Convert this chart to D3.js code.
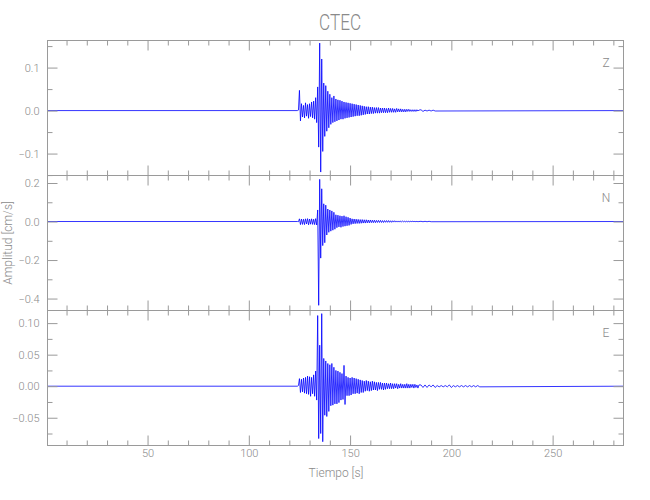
<!DOCTYPE html>
<html>
<head>
<meta charset="utf-8">
<script src="https://cdn.jsdelivr.net/npm/d3@7"></script>
<style>
  html, body { margin: 0; padding: 0; background: #fff; }
  svg { display: block; }
  text { font-family: Roboto, "Liberation Sans Narrow", "DejaVu Sans", sans-serif; font-weight: 300; fill: #8a8a8a; }
</style>
</head>
<body>
<script>
// ---------------- data ----------------
const title = "CTEC";
const xLabel = "Tiempo  [s]";
const yLabel = "Amplitud  [cm/s]";
const components = ["Z", "N", "E"];

const timeDomain = [0.6, 285];
const xMajorTicks = [50, 100, 150, 200, 250];
const xMinorTicks = [10, 20, 30, 40, 60, 70, 80, 90, 110, 120, 130, 140, 160, 170, 180, 190, 210, 220, 230, 240, 260, 270, 280];

// dense samples start at 124.0 s, every 0.5 s
const denseStart = 124.0;
const denseStep = 0.5;

const ampZ = [
  0, 0.001, 0.047, -0.024, 0.016, -0.015, 0.012, -0.017, 0.018, -0.013,
  0.014, -0.018, 0.016, -0.014, 0.020, -0.017, 0.022, -0.020, 0.030, -0.028,
  0.055, -0.085, 0.157, -0.143, 0.120, -0.095, 0.064, -0.060, 0.058, -0.048,
  0.045, -0.040, 0.038, -0.032, 0.030, -0.028, 0.034, -0.026, 0.027, -0.024,
  0.025, -0.022, 0.024, -0.020, 0.022, -0.020, 0.020, -0.018, 0.019, -0.017,
  0.018, -0.016, 0.017, -0.015, 0.016, -0.014, 0.015, -0.013, 0.014, -0.012,
  0.013, -0.012, 0.012, -0.011, 0.011, -0.010, 0.010, -0.009, 0.009, -0.008,
  0.009, -0.008, 0.008, -0.007, 0.008, -0.007, 0.007, -0.006, 0.007, -0.006,
  0.007, -0.006, 0.006, -0.005, 0.006, -0.005, 0.006, -0.005, 0.005, -0.005,
  0.006, -0.004, 0.005, -0.004, 0.005, -0.004, 0.004, -0.004, 0.005, -0.003,
  0.004, -0.003, 0.004, -0.003, 0.003, -0.003, 0.003, -0.003, 0.003, -0.002,
  0.003, -0.002, 0.002, -0.002, 0.002, -0.002, 0.002, -0.002, 0.002, -0.001,
  0.001
];

const ampN = [
  0, -0.001, 0.014, -0.016, 0.013, -0.015, 0.012, -0.016, 0.014, -0.013,
  0.015, -0.017, 0.013, -0.014, 0.014, -0.015, 0.012, -0.016, 0.015, -0.018,
  0.060, -0.435, 0.219, -0.190, 0.170, -0.125, 0.092, -0.110, 0.085, -0.070,
  0.065, -0.056, 0.060, -0.050, 0.055, -0.045, 0.048, -0.040, 0.035, -0.032,
  0.033, -0.028, 0.030, -0.030, 0.028, -0.026, 0.030, -0.024, 0.025, -0.022,
  0.022, -0.020, 0.018, -0.015, 0.014, -0.012, 0.013, -0.011, 0.012, -0.010,
  0.011, -0.010, 0.010, -0.009, 0.010, -0.008, 0.009, -0.008, 0.009, -0.007,
  0.008, -0.007, 0.008, -0.006, 0.007, -0.006, 0.007, -0.006, 0.006, -0.005,
  0.006, -0.005, 0.006, -0.005, 0.005, -0.005, 0.005, -0.004, 0.005, -0.004,
  0.005, -0.004, 0.004, -0.004, 0.004, -0.003, 0.004, -0.003, 0.003, -0.003,
  0.003, -0.003, 0.003, -0.002, 0.003, -0.002, 0.002, -0.002, 0.002, -0.002,
  0.002, -0.002, 0.002, -0.001, 0.002, -0.001, 0.001, -0.001, 0.001, -0.001,
  0.000
];

const ampE = [
  0, 0.001, 0.012, -0.010, 0.011, -0.009, 0.013, -0.011, 0.014, -0.012,
  0.016, -0.013, 0.015, -0.016, 0.014, -0.012, 0.018, -0.016, 0.024, -0.022,
  0.112, -0.083, 0.065, -0.075, 0.115, -0.088, 0.044, -0.046, 0.040, -0.048,
  0.036, -0.040, 0.034, -0.031, 0.036, -0.030, 0.030, -0.028, 0.025, -0.028,
  0.024, -0.026, 0.022, -0.022, 0.020, -0.021, 0.033, -0.029, 0.016, -0.015,
  0.014, -0.015, 0.013, -0.014, 0.014, -0.012, 0.013, -0.012, 0.012, -0.011,
  0.011, -0.012, 0.010, -0.010, 0.009, -0.010, 0.008, -0.008, 0.009, -0.007,
  0.008, -0.008, 0.007, -0.007, 0.008, -0.006, 0.007, -0.006, 0.006, -0.007,
  0.006, -0.005, 0.006, -0.005, 0.005, -0.006, 0.005, -0.005, 0.005, -0.004,
  0.004, -0.004, 0.005, -0.004, 0.004, -0.004, 0.004, -0.003, 0.004, -0.004,
  0.003, -0.003, 0.004, -0.003, 0.003, -0.003, 0.003, -0.003, 0.004, -0.003,
  0.003, -0.003, 0.003, -0.002, 0.003, -0.003, 0.003, -0.002, 0.002, -0.003,
  0.002
];

// sparse coda tail, every 1 s from 185 s
const tailStart = 185;
const tailStep = 1;
const tailZ = [0.002, -0.002, 0.001, -0.001, 0.001, -0.001, 0.001, -0.001];
const tailN = [0.001, -0.001, 0.001, -0.001, 0.001, -0.001];
const tailE = [
  0.002, -0.002, 0.002, -0.002, 0.002, -0.001, 0.002, -0.002, 0.001, -0.001,
  0.001, -0.001, 0.001, -0.001, 0.002, -0.002, 0.001, -0.001, 0.001, -0.001,
  0.001, -0.001, 0.001, -0.001, 0.001, -0.001, 0.001, -0.001, 0.001, -0.001
];

const yDomainZ = [-0.151, 0.163];
const yDomainN = [-0.462, 0.239];
const yDomainE = [-0.094, 0.12];

const yTicksZ = [-0.1, 0.0, 0.1];
const yLabelsZ = ["\u22120.1", "0.0", "0.1"];
const yMinorZ = [-0.15, -0.05, 0.05, 0.15];

const yTicksN = [-0.4, -0.2, 0.0, 0.2];
const yLabelsN = ["\u22120.4", "\u22120.2", "0.0", "0.2"];
const yMinorN = [-0.3, -0.1, 0.1];

const yTicksE = [-0.05, 0.0, 0.05, 0.10];
const yLabelsE = ["\u22120.05", "0.00", "0.05", "0.10"];
const yMinorE = [-0.075, -0.025, 0.025, 0.075];

// ---------------- layout ----------------
const W = 650, H = 500;
const left = 47.5, right = 623.5;
const panelTop = [40.5, 175.5, 310.5];
const panelH = 135;
const axisColor = "#9a9a9a";
const textColor = "#8a8a8a";
const traceColor = "#0000ff";

const panels = [
  { name: components[0], amp: ampZ, tail: tailZ, domain: yDomainZ, ticks: yTicksZ, labels: yLabelsZ, minor: yMinorZ },
  { name: components[1], amp: ampN, tail: tailN, domain: yDomainN, ticks: yTicksN, labels: yLabelsN, minor: yMinorN },
  { name: components[2], amp: ampE, tail: tailE, domain: yDomainE, ticks: yTicksE, labels: yLabelsE, minor: yMinorE }
];

const svg = d3.select("body").append("svg").attr("width", W).attr("height", H);
const x = d3.scaleLinear().domain(timeDomain).range([left, right]);

function styleAxis(g) {
  g.select(".domain").remove();
  g.selectAll(".tick line").attr("stroke", axisColor).attr("stroke-width", 1);
  g.selectAll(".tick text").attr("fill", textColor)
    .style("font-family", "Roboto, 'Liberation Sans Narrow', sans-serif")
    .style("font-weight", "300")
    .style("font-size", "11px");
}

panels.forEach((p, i) => {
  const top = panelTop[i], bottom = top + panelH;
  const y = d3.scaleLinear().domain(p.domain).range([bottom, top]);
  const g = svg.append("g");

  const pts = [[timeDomain[0], 0]];
  p.amp.forEach((v, k) => pts.push([denseStart + k * denseStep, v]));
  p.tail.forEach((v, k) => pts.push([tailStart + k * tailStep, v]));
  pts.push([timeDomain[1], 0]);

  const line = d3.line().x(d => x(d[0])).y(d => y(d[1]));
  g.append("path").datum(pts)
    .attr("d", line)
    .attr("fill", "none")
    .attr("stroke", traceColor)
    .attr("stroke-width", 0.8)
    .attr("stroke-linejoin", "round");

  g.append("rect").attr("x", left).attr("y", top)
    .attr("width", right - left).attr("height", panelH)
    .attr("fill", "none").attr("stroke", axisColor).attr("stroke-width", 1);

  const minorVals = p.minor.filter(v => v >= p.domain[0] && v <= p.domain[1]);
  const yl = g.append("g").attr("transform", `translate(${left},0)`)
    .call(d3.axisLeft(y).tickValues(p.ticks).tickSize(-10).tickPadding(8)
      .tickFormat((d, k) => p.labels[k]));
  styleAxis(yl);
  styleAxis(g.append("g").attr("transform", `translate(${left},0)`)
    .call(d3.axisLeft(y).tickValues(minorVals).tickSize(-5).tickFormat("")));
  styleAxis(g.append("g").attr("transform", `translate(${right},0)`)
    .call(d3.axisRight(y).tickValues(p.ticks).tickSize(-10).tickFormat("")));
  styleAxis(g.append("g").attr("transform", `translate(${right},0)`)
    .call(d3.axisRight(y).tickValues(minorVals).tickSize(-5).tickFormat("")));

  styleAxis(g.append("g").attr("transform", `translate(0,${top})`)
    .call(d3.axisTop(x).tickValues(xMajorTicks).tickSize(-10).tickFormat("")));
  styleAxis(g.append("g").attr("transform", `translate(0,${top})`)
    .call(d3.axisTop(x).tickValues(xMinorTicks).tickSize(-5).tickFormat("")));
  styleAxis(g.append("g").attr("transform", `translate(0,${bottom})`)
    .call(d3.axisBottom(x).tickValues(xMajorTicks).tickSize(-10).tickPadding(4)
      .tickFormat(i === panels.length - 1 ? d3.format("d") : "")));
  styleAxis(g.append("g").attr("transform", `translate(0,${bottom})`)
    .call(d3.axisBottom(x).tickValues(xMinorTicks).tickSize(-5).tickFormat("")));

  g.append("text").attr("x", 606).attr("y", top + 26)
    .attr("text-anchor", "middle").style("font-size", "12px").text(p.name);
});

svg.append("text").attr("transform", "translate(340,30) scale(0.78,1)")
  .attr("text-anchor", "middle")
  .style("font-size", "22px").text(title);
svg.append("text").attr("x", 336).attr("y", 477).attr("text-anchor", "middle")
  .style("font-size", "12px").text(xLabel);
svg.append("text").attr("transform", "translate(12,243) rotate(-90)")
  .attr("text-anchor", "middle").style("font-size", "12px").text(yLabel);
</script>
</body>
</html>
